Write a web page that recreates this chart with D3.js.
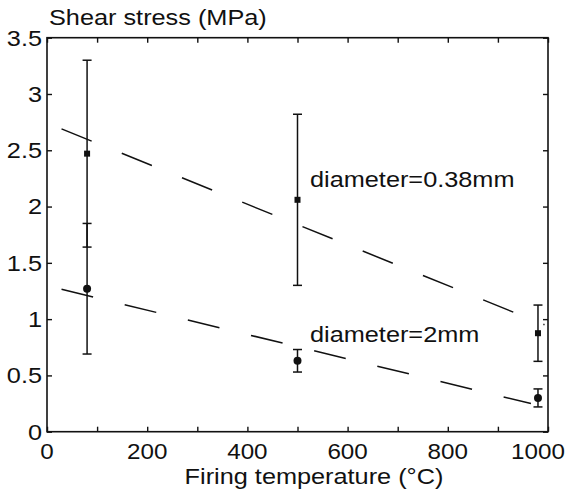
<!DOCTYPE html>
<html>
<head>
<meta charset="utf-8">
<script src="https://d3js.org/d3.v7.min.js"></script>
<style>
  body { margin: 0; background: #fff; }
  svg { display: block; }
  text { font-family: "Liberation Sans", Arial, Helvetica, sans-serif; fill: #111; }
</style>
</head>
<body>
<div id="container"></div>
<script>
// firing temperatures (°C) of the measured samples
var temps = [80, 500, 980];

// diameter = 0.38 mm (squares)
var shear038 = [2.47, 2.06, 0.875];
var err038 = [0.83, 0.76, 0.25];

// diameter = 2 mm (circles)
var shear2 = [1.27, 0.63, 0.30];
var err2 = [0.58, 0.10, 0.08];

// dashed trend lines, end points
var fitX038 = [29, 993];
var fitY038 = [2.69, 0.95];
var fitX2 = [29, 966];
var fitY2 = [1.265, 0.25];

var xTicks = [0, 100, 200, 300, 400, 500, 600, 700, 800, 900, 1000];
var xLabels = [0, 200, 400, 600, 800, 1000];
var yTicks = [0, 0.5, 1, 1.5, 2, 2.5, 3, 3.5];

var labels = [
  {text: "diameter=0.38mm", x: 525, y: 2.17},
  {text: "diameter=2mm", x: 525, y: 0.80}
];

var width = 569, height = 498;
// plot frame ("top" is taken by window.top, so prefix these)
var plotL = 47, plotR = 548, plotT = 37.7, plotB = 431.7;
var sx = 1.15; // the scanned lettering is a bit wide

var x = d3.scaleLinear().domain([0, 1000]).range([plotL, plotR]);
var y = d3.scaleLinear().domain([0, 3.5]).range([plotB, plotT]);

var svg = d3.select("#container")
  .append("svg")
  .attr("width", width)
  .attr("height", height);

// ticks on all four sides, pointing in
function styleAxis(g) {
  g.select(".domain").remove();
  g.selectAll("line").attr("stroke", "#111").attr("stroke-width", 1.4);
  g.selectAll("text").remove();
}
svg.append("g").attr("transform", `translate(0,${plotB})`)
  .call(d3.axisBottom(x).tickValues(xTicks).tickSize(-5)).call(styleAxis);
svg.append("g").attr("transform", `translate(0,${plotT})`)
  .call(d3.axisTop(x).tickValues(xTicks).tickSize(-5)).call(styleAxis);
svg.append("g").attr("transform", `translate(${plotL},0)`)
  .call(d3.axisLeft(y).tickValues(yTicks).tickSize(-5)).call(styleAxis);
svg.append("g").attr("transform", `translate(${plotR},0)`)
  .call(d3.axisRight(y).tickValues(yTicks).tickSize(-5)).call(styleAxis);

svg.append("rect")
  .attr("x", plotL).attr("y", plotT)
  .attr("width", plotR - plotL).attr("height", plotB - plotT)
  .attr("fill", "none").attr("stroke", "#111").attr("stroke-width", 1.6);

// tick labels
svg.append("g").selectAll("text")
  .data(yTicks)
  .join("text")
    .attr("transform", d => `translate(${plotL - 5},${y(d)}) scale(${sx},1)`)
    .attr("dy", "0.36em")
    .attr("text-anchor", "end")
    .attr("font-size", 22)
    .text(d => d);

svg.append("g").selectAll("text")
  .data(xLabels)
  .join("text")
    .attr("transform", d => `translate(${Math.min(x(d), width - 31)},${plotB + 27}) scale(1.1,1)`)
    .attr("text-anchor", "middle")
    .attr("font-size", 22)
    .text(d => d);

// axis titles
svg.append("text")
  .attr("transform", `translate(49,25) scale(${sx},1)`)
  .attr("font-size", 22)
  .text("Shear stress (MPa)");

svg.append("text")
  .attr("transform", `translate(314,484) scale(${sx},1)`)
  .attr("text-anchor", "middle")
  .attr("font-size", 22)
  .text("Firing temperature (°C)");

// dashed lines
var line = d3.line().x(d => x(d[0])).y(d => y(d[1]));
[[fitX038, fitY038], [fitX2, fitY2]].forEach(function(f) {
  svg.append("path")
    .datum(d3.zip(f[0], f[1]))
    .attr("d", line)
    .attr("fill", "none")
    .attr("stroke", "#111")
    .attr("stroke-width", 1.5)
    .attr("stroke-dasharray", "32.5 32.5");
});

// error bars
function errorBars(vals, errs, cap) {
  var g = svg.append("g").attr("stroke", "#111").attr("stroke-width", 1.5);
  var rows = temps.map((t, i) => ({t: t, v: vals[i], e: errs[i]}));
  g.selectAll(".v").data(rows).join("line")
    .attr("x1", d => x(d.t)).attr("x2", d => x(d.t))
    .attr("y1", d => y(d.v - d.e)).attr("y2", d => y(d.v + d.e));
  g.selectAll(".lo").data(rows).join("line")
    .attr("x1", d => x(d.t) - cap).attr("x2", d => x(d.t) + cap)
    .attr("y1", d => y(d.v - d.e)).attr("y2", d => y(d.v - d.e));
  g.selectAll(".hi").data(rows).join("line")
    .attr("x1", d => x(d.t) - cap).attr("x2", d => x(d.t) + cap)
    .attr("y1", d => y(d.v + d.e)).attr("y2", d => y(d.v + d.e));
}
errorBars(shear038, err038, 4.5);
errorBars(shear2, err2, 4.5);

// markers
svg.append("g").selectAll("rect")
  .data(temps.map((t, i) => [t, shear038[i]]))
  .join("rect")
    .attr("x", d => x(d[0]) - 3)
    .attr("y", d => y(d[1]) - 3)
    .attr("width", 6).attr("height", 6)
    .attr("fill", "#111");

svg.append("g").selectAll("circle")
  .data(temps.map((t, i) => [t, shear2[i]]))
  .join("circle")
    .attr("cx", d => x(d[0]))
    .attr("cy", d => y(d[1]))
    .attr("r", 4)
    .attr("fill", "#111");

// series labels
svg.append("g").selectAll("text")
  .data(labels)
  .join("text")
    .attr("transform", d => `translate(${x(d.x)},${y(d.y)}) scale(${sx},1)`)
    .attr("font-size", 22)
    .text(d => d.text);
</script>
</body>
</html>
